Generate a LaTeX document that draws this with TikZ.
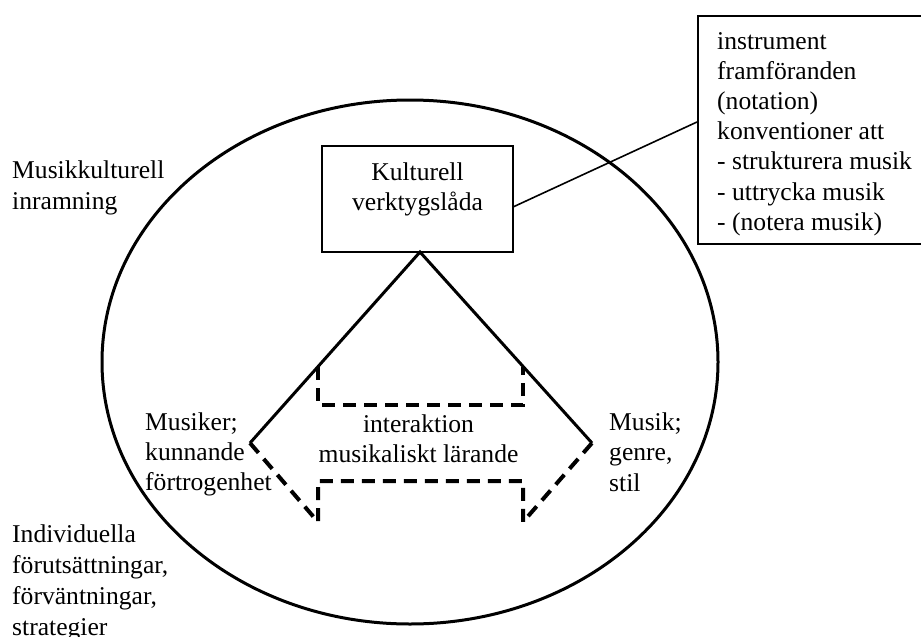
\documentclass[tikz,border=0pt]{standalone}
\usepackage{fontspec}
\setmainfont{Liberation Serif}
\begin{document}
\begin{tikzpicture}[x=1pt,y=-1pt,
  lbl/.style={inner sep=0pt, font=\fontsize{25.6}{30.5}\selectfont},
  boxline/.style={draw, line width=2pt, inner sep=0pt},
  solidline/.style={line width=3pt},
  dashline/.style={line width=4pt, dash pattern=on 13pt off 8pt},
  thinline/.style={line width=1.6pt}]
\useasboundingbox (0,0) rectangle (921,637);
\clip (0,0) rectangle (921,637);
% outer ellipse
\draw[solidline] (410,362) ellipse [x radius=308, y radius=262];
% boxes
\node[boxline, minimum width=191pt, minimum height=106pt] (kbox) at (417.5,199) {};
\node[boxline, minimum width=240pt, minimum height=228pt, anchor=north west] (rbox) at (697,15) {};
% texts
\node[lbl, anchor=base] (ktext) at (417.5,180) {\begin{tabular}[t]{@{}c@{}}Kulturell\\verktygslåda\end{tabular}};
\node[lbl, anchor=base west] (rtext) at (717,49) {\fontsize{25.6}{30.2}\selectfont\begin{tabular}[t]{@{}l@{}}instrument\\framföranden\\(notation)\\konventioner att\\- strukturera musik\\- uttrycka musik\\- (notera musik)\end{tabular}};
\node[lbl, anchor=base west] (ram) at (12,178) {\fontsize{25.6}{31.5}\selectfont\begin{tabular}[t]{@{}l@{}}Musikkulturell\\inramning\end{tabular}};
\node[lbl, anchor=base west] (ind) at (12,542) {\fontsize{25.6}{31}\selectfont\begin{tabular}[t]{@{}l@{}}Individuella\\förutsättningar,\\förväntningar,\\strategier\end{tabular}};
\node[lbl, anchor=base west] (musiker) at (145,430) {\fontsize{25.6}{30}\selectfont\begin{tabular}[t]{@{}l@{}}Musiker;\\kunnande\\förtrogenhet\end{tabular}};
\node[lbl, anchor=base west] (musik) at (609,430) {\fontsize{25.6}{30.5}\selectfont\begin{tabular}[t]{@{}l@{}}Musik;\\genre,\\stil\end{tabular}};
\node[lbl, anchor=base] (inter) at (418.5,432) {\fontsize{25.6}{30}\selectfont\begin{tabular}[t]{@{}c@{}}interaktion\\musikaliskt lärande\end{tabular}};
% connector to right box
\coordinate (c1) at (513,207);
\coordinate (c2) at (697,122);
\draw[thinline] (c1) -- (c2);
% triangle
\coordinate (apex) at (420,252);
\coordinate (L) at (250,443);
\coordinate (R) at (592,443);
\draw[solidline, line join=miter] (L) -- (apex) -- (R);
% dashed double arrow
\coordinate (lt) at (318,367);
\coordinate (lu) at (318,405);
\coordinate (ll) at (318,481);
\coordinate (lb) at (318,522);
\coordinate (rt) at (523,367);
\coordinate (ru) at (523,405);
\coordinate (rl) at (523,481);
\coordinate (rb) at (523,522);
\draw[dashline] (lt) -- (lu) -- (ru) -- (rt);
\draw[dashline] (L) -- (lb) -- (ll) -- (rl) -- (rb) -- (R);
\end{tikzpicture}
\end{document}
